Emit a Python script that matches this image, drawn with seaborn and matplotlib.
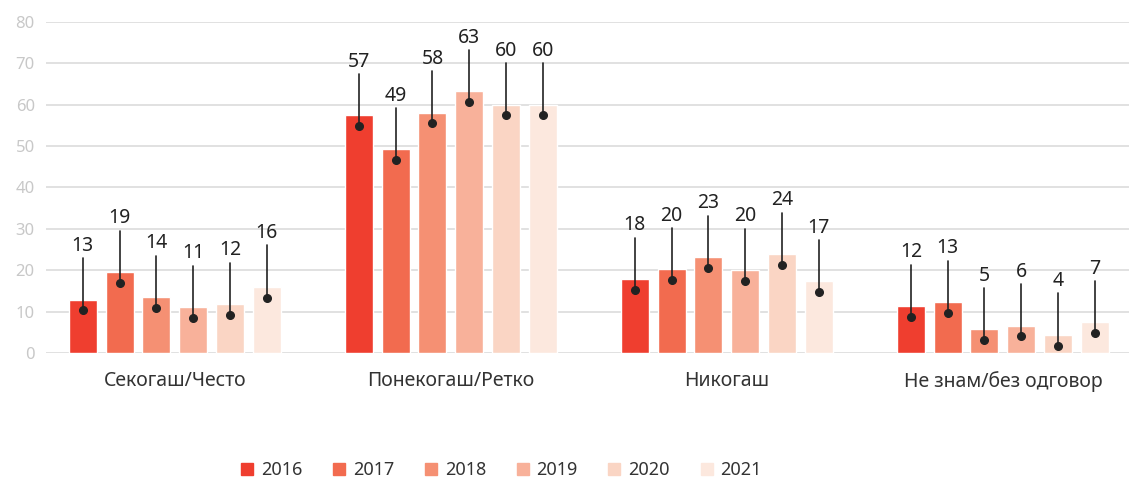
import pandas as pd
import numpy as np
import matplotlib.pyplot as plt
import seaborn as sns
from matplotlib.lines import Line2D

# ── data ───────────────────────────────────────────────────────────────────────
categories = ["Секогаш/Често", "Понекогаш/Ретко", "Никогаш", "Не знам/без одговор"]
years = ["2016", "2017", "2018", "2019", "2020", "2021"]

# bar heights per year (one value per category)
vals_2016 = [12.9, 57.4, 17.8, 11.3]
vals_2017 = [19.6, 49.2, 20.2, 12.3]
vals_2018 = [13.5, 58.1, 23.2, 5.7]
vals_2019 = [11.1, 63.2, 20.0, 6.6]
vals_2020 = [11.8, 60.0, 23.9, 4.4]
vals_2021 = [16.0, 60.0, 17.3, 7.4]

# printed labels
lab_2016 = [13, 57, 18, 12]
lab_2017 = [19, 49, 20, 13]
lab_2018 = [14, 58, 23, 5]
lab_2019 = [11, 63, 20, 6]
lab_2020 = [12, 60, 24, 4]
lab_2021 = [16, 60, 17, 7]

colors = ["#EF3E2F", "#F26B4F", "#F59073", "#F8B19A", "#FAD5C4", "#FCE8DE"]

all_vals = [vals_2016, vals_2017, vals_2018, vals_2019, vals_2020, vals_2021]
all_labs = [lab_2016, lab_2017, lab_2018, lab_2019, lab_2020, lab_2021]

rows = []
for yr, vals in zip(years, all_vals):
    for cat, v in zip(categories, vals):
        rows.append({"cat": cat, "year": yr, "val": v})
df = pd.DataFrame(rows)

# ── plot ───────────────────────────────────────────────────────────────────────
sns.set_style("white")
plt.rcParams["font.family"] = ["Noto Sans", "DejaVu Sans"]

fig = plt.figure(figsize=(11.29, 4.8), dpi=100)
ax = fig.add_axes([0.0407, 0.2646, 0.9593, 0.6896])

sns.barplot(data=df, x="cat", y="val", hue="year", order=categories, hue_order=years,
            palette=colors, saturation=1, width=0.8, gap=0.24, legend=False, ax=ax)

ax.set_ylim(0, 80)
ax.set_xlim(-0.467, 3.457)
ax.set_yticks(range(0, 81, 10))
ax.yaxis.grid(True, color="#dcdcdc", linewidth=1.2)
ax.set_axisbelow(True)
for s in ax.spines.values():
    s.set_visible(False)
ax.tick_params(axis="y", length=0, labelsize=12, labelcolor="#c8c8c8", pad=8)
ax.tick_params(axis="x", length=0, labelsize=14, labelcolor="#333333", pad=13)
ax.set_xlabel("")
ax.set_ylabel("")

# leader lines, dots and value labels
for cont, labs in zip(ax.containers, all_labs):
    for bar, lab in zip(cont, labs):
        x = bar.get_x() + bar.get_width() / 2
        h = bar.get_height()
        ax.plot([x, x], [h - 2.6, h + 10], color="#222222", lw=1.2, zorder=4)
        ax.plot(x, h - 2.6, "o", color="#222222", ms=5.5, zorder=5)
        ax.text(x, h + 10.6, str(lab), ha="center", va="bottom",
                fontsize=14, color="#222222", zorder=5)

handles = [Line2D([], [], marker="s", linestyle="", markersize=8, color=c) for c in colors]
fig.legend(handles, years, loc="center left", bbox_to_anchor=(0.2, 0.021), ncol=6,
           frameon=False, fontsize=13, handlelength=0.55, handletextpad=0.5,
           columnspacing=1.75, labelcolor="#333333")

plt.savefig("out.png", dpi=100)
plt.close()
